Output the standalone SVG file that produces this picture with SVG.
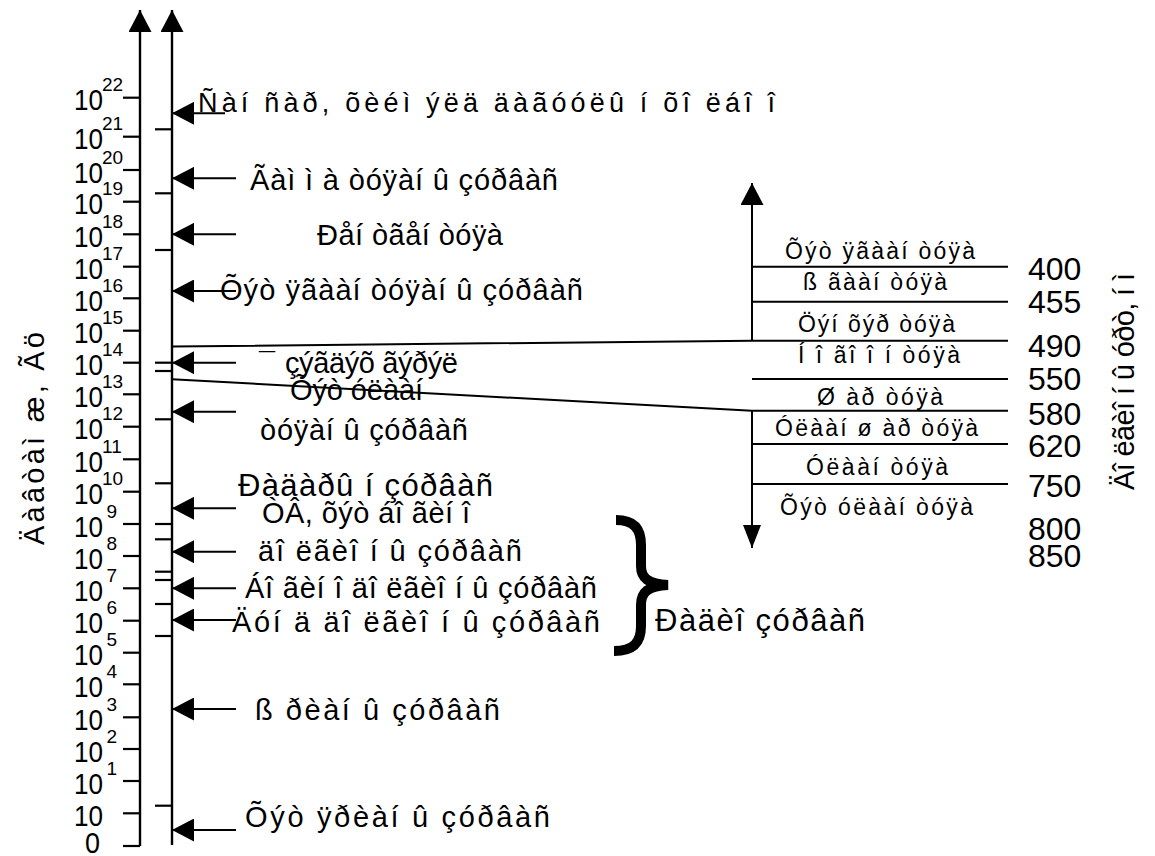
<svg xmlns="http://www.w3.org/2000/svg" width="1155" height="856" viewBox="0 0 1155 856" xml:space="preserve">
<style>
text { font-family: "Liberation Sans", Arial, sans-serif; fill: #000; }
.lbl { font-size: 29px; }
.big { font-size: 31px; }
.band { font-size: 23px; }
.num { font-size: 32px; }
.base { font-size: 30px; }
.sup { font-size: 19px; }
.ax { font-size: 29px; }
.ln { stroke: #000; stroke-width: 2; fill: none; }
.axis { stroke: #000; stroke-width: 2.4; fill: none; }
.tick { stroke: #000; stroke-width: 2.2; }
</style>
<defs>
<marker id="ah" markerUnits="userSpaceOnUse" markerWidth="22" markerHeight="23" viewBox="0 0 22 23" refX="22" refY="11.5" orient="auto"><path d="M0,0 L22,11.5 L0,23 Z" fill="#000"/></marker>
<marker id="ahN" markerUnits="userSpaceOnUse" markerWidth="23" markerHeight="18" viewBox="0 0 23 18" refX="23" refY="9" orient="auto"><path d="M0,0 L23,9 L0,18 Z" fill="#000"/></marker>
</defs>

<!-- frequency scale: two axes, ticks and powers of ten -->
<g id="freq-axis">
<line class="axis" x1="140" y1="846" x2="140" y2="10" marker-end="url(#ah)"/>
<line class="axis" x1="172" y1="845" x2="172" y2="10" marker-end="url(#ah)"/>
<g class="tick">
<line x1="123" y1="97.7" x2="140" y2="97.7"/>
<line x1="123" y1="136.7" x2="140" y2="136.7"/>
<line x1="123" y1="170" x2="140" y2="170"/>
<line x1="123" y1="201.7" x2="140" y2="201.7"/>
<line x1="123" y1="234.3" x2="140" y2="234.3"/>
<line x1="123" y1="266.7" x2="140" y2="266.7"/>
<line x1="123" y1="298.3" x2="140" y2="298.3"/>
<line x1="123" y1="330.7" x2="140" y2="330.7"/>
<line x1="123" y1="362.7" x2="140" y2="362.7"/>
<line x1="123" y1="394.3" x2="140" y2="394.3"/>
<line x1="123" y1="426.7" x2="140" y2="426.7"/>
<line x1="123" y1="459.3" x2="140" y2="459.3"/>
<line x1="123" y1="491.7" x2="140" y2="491.7"/>
<line x1="123" y1="524" x2="140" y2="524"/>
<line x1="123" y1="556" x2="140" y2="556"/>
<line x1="123" y1="588.3" x2="140" y2="588.3"/>
<line x1="123" y1="620.7" x2="140" y2="620.7"/>
<line x1="123" y1="652.7" x2="140" y2="652.7"/>
<line x1="123" y1="684.3" x2="140" y2="684.3"/>
<line x1="123" y1="717.3" x2="140" y2="717.3"/>
<line x1="123" y1="749" x2="140" y2="749"/>
<line x1="123" y1="781" x2="140" y2="781"/>
<line x1="123" y1="813.3" x2="140" y2="813.3"/>
<line x1="123" y1="846" x2="140" y2="846"/>
<line x1="155" y1="129.3" x2="172" y2="129.3"/>
<line x1="155" y1="193.3" x2="172" y2="193.3"/>
<line x1="155" y1="250" x2="172" y2="250"/>
<line x1="155" y1="362.7" x2="172" y2="362.7"/>
<line x1="155" y1="371" x2="172" y2="371"/>
<line x1="155" y1="419.3" x2="172" y2="419.3"/>
<line x1="155" y1="483.3" x2="172" y2="483.3"/>
<line x1="155" y1="524" x2="172" y2="524"/>
<line x1="155" y1="539.3" x2="172" y2="539.3"/>
<line x1="155" y1="571.7" x2="172" y2="571.7"/>
<line x1="155" y1="580" x2="172" y2="580"/>
<line x1="155" y1="604" x2="172" y2="604"/>
<line x1="155" y1="636" x2="172" y2="636"/>
<line x1="155" y1="805.7" x2="172" y2="805.7"/>
</g>
<g>
<text class="base" x="74" y="110.4" textLength="29" lengthAdjust="spacingAndGlyphs">10</text><text class="sup" x="102" y="91.2">22</text>
<text class="base" x="74" y="149.4" textLength="29" lengthAdjust="spacingAndGlyphs">10</text><text class="sup" x="102" y="130.2">21</text>
<text class="base" x="74" y="182.7" textLength="29" lengthAdjust="spacingAndGlyphs">10</text><text class="sup" x="102" y="163.5">20</text>
<text class="base" x="74" y="214.4" textLength="29" lengthAdjust="spacingAndGlyphs">10</text><text class="sup" x="102" y="195.2">19</text>
<text class="base" x="74" y="247" textLength="29" lengthAdjust="spacingAndGlyphs">10</text><text class="sup" x="102" y="227.8">18</text>
<text class="base" x="74" y="279.4" textLength="29" lengthAdjust="spacingAndGlyphs">10</text><text class="sup" x="102" y="260.2">17</text>
<text class="base" x="74" y="311" textLength="29" lengthAdjust="spacingAndGlyphs">10</text><text class="sup" x="102" y="291.8">16</text>
<text class="base" x="74" y="343.4" textLength="29" lengthAdjust="spacingAndGlyphs">10</text><text class="sup" x="102" y="324.2">15</text>
<text class="base" x="74" y="375.4" textLength="29" lengthAdjust="spacingAndGlyphs">10</text><text class="sup" x="102" y="356.2">14</text>
<text class="base" x="74" y="407" textLength="29" lengthAdjust="spacingAndGlyphs">10</text><text class="sup" x="102" y="387.8">13</text>
<text class="base" x="74" y="439.4" textLength="29" lengthAdjust="spacingAndGlyphs">10</text><text class="sup" x="102" y="420.2">12</text>
<text class="base" x="74" y="472" textLength="29" lengthAdjust="spacingAndGlyphs">10</text><text class="sup" x="102" y="452.8">11</text>
<text class="base" x="74" y="504.4" textLength="29" lengthAdjust="spacingAndGlyphs">10</text><text class="sup" x="102" y="485.2">10</text>
<text class="base" x="74" y="536.7" textLength="29" lengthAdjust="spacingAndGlyphs">10</text><text class="sup" x="106.5" y="517.5">9</text>
<text class="base" x="74" y="568.7" textLength="29" lengthAdjust="spacingAndGlyphs">10</text><text class="sup" x="106.5" y="549.5">8</text>
<text class="base" x="74" y="601" textLength="29" lengthAdjust="spacingAndGlyphs">10</text><text class="sup" x="106.5" y="581.8">7</text>
<text class="base" x="74" y="633.4" textLength="29" lengthAdjust="spacingAndGlyphs">10</text><text class="sup" x="106.5" y="614.2">6</text>
<text class="base" x="74" y="665.4" textLength="29" lengthAdjust="spacingAndGlyphs">10</text><text class="sup" x="106.5" y="646.2">5</text>
<text class="base" x="74" y="697" textLength="29" lengthAdjust="spacingAndGlyphs">10</text><text class="sup" x="106.5" y="677.8">4</text>
<text class="base" x="74" y="730" textLength="29" lengthAdjust="spacingAndGlyphs">10</text><text class="sup" x="106.5" y="710.8">3</text>
<text class="base" x="74" y="761.7" textLength="29" lengthAdjust="spacingAndGlyphs">10</text><text class="sup" x="106.5" y="742.5">2</text>
<text class="base" x="74" y="793.7" textLength="29" lengthAdjust="spacingAndGlyphs">10</text><text class="sup" x="106.5" y="774.5">1</text>
<text class="base" x="74" y="826" textLength="29" lengthAdjust="spacingAndGlyphs">10</text>
<text class="base" x="85" y="853" textLength="15" lengthAdjust="spacingAndGlyphs">0</text>
</g>
<text class="ax" transform="translate(44,438.5) rotate(-90)" text-anchor="middle" textLength="213" lengthAdjust="spacing">Äàâòàì  æ, Ãö</text>
</g>

<!-- pointers from each band name to the scale -->
<g id="connectors">
<line class="ln" x1="225" y1="113.3" x2="172" y2="113.3" marker-end="url(#ah)"/>
<line class="ln" x1="236" y1="178.3" x2="172" y2="178.3" marker-end="url(#ah)"/>
<line class="ln" x1="236" y1="234.3" x2="172" y2="234.3" marker-end="url(#ah)"/>
<line class="ln" x1="236" y1="291" x2="172" y2="291" marker-end="url(#ah)"/>
<line class="ln" x1="236" y1="362.7" x2="172" y2="362.7" marker-end="url(#ah)"/>
<line class="ln" x1="236" y1="411.7" x2="172" y2="411.7" marker-end="url(#ah)"/>
<line class="ln" x1="236" y1="508.3" x2="172" y2="508.3" marker-end="url(#ah)"/>
<line class="ln" x1="236" y1="551.7" x2="172" y2="551.7" marker-end="url(#ah)"/>
<line class="ln" x1="236" y1="588.3" x2="172" y2="588.3" marker-end="url(#ah)"/>
<line class="ln" x1="236" y1="620" x2="172" y2="620" marker-end="url(#ah)"/>
<line class="ln" x1="236" y1="709" x2="172" y2="709" marker-end="url(#ah)"/>
<line class="ln" x1="236" y1="830" x2="172" y2="830" marker-end="url(#ah)"/>
<!-- visible light range fanned out to the wavelength scale -->
<polyline class="ln" points="172,346.5 752,340.7 1008,340.7"/>
<polyline class="ln" points="172,379.3 752,410.8 1008,410.8"/>
</g>

<!-- wavelength scale for the visible band -->
<g id="wave-scale">
<line class="ln" x1="752" y1="340.7" x2="752" y2="183" marker-end="url(#ah)"/>
<line class="ln" x1="752" y1="410.8" x2="752" y2="548" marker-end="url(#ahN)"/>
<line class="ln" x1="752" y1="266.7" x2="1008" y2="266.7"/>
<line class="ln" x1="752" y1="301.7" x2="1008" y2="301.7"/>
<line class="ln" x1="752" y1="379" x2="1008" y2="379"/>
<line class="ln" x1="752" y1="444" x2="1008" y2="444"/>
<line class="ln" x1="752" y1="484" x2="1008" y2="484"/>
<g class="num">
<text x="1028" y="280">400</text>
<text x="1028" y="313">455</text>
<text x="1028" y="356.7">490</text>
<text x="1028" y="390">550</text>
<text x="1028" y="425">580</text>
<text x="1028" y="456.7">620</text>
<text x="1028" y="496.7">750</text>
<text x="1028" y="540">800</text>
<text x="1028" y="567">850</text>
</g>
<text class="ax" transform="translate(1134,381.5) rotate(-90)" text-anchor="middle" textLength="217" lengthAdjust="spacing">Äî ëãèî í û óðò, í ì</text>
</g>

<g id="band-uv-wl"><text class="band" x="785" y="259" textLength="190" lengthAdjust="spacing">Õýò ÿãààí  òóÿà</text></g>
<g id="band-violet"><text class="band" x="803" y="290" textLength="144" lengthAdjust="spacing">ß ãààí  òóÿà</text></g>
<g id="band-blue"><text class="band" x="798" y="331.7" textLength="157" lengthAdjust="spacing">Öýí õýð òóÿà</text></g>
<g id="band-green"><text class="band" x="798" y="363" textLength="162" lengthAdjust="spacing">Í î ãî î í  òóÿà</text></g>
<g id="band-yellow"><text class="band" x="817" y="405" textLength="126" lengthAdjust="spacing">Ø àð òóÿà</text></g>
<g id="band-orange"><text class="band" x="775" y="436" textLength="203" lengthAdjust="spacing">Óëààí  ø àð òóÿà</text></g>
<g id="band-red"><text class="band" x="806" y="475" textLength="142" lengthAdjust="spacing">Óëààí  òóÿà</text></g>
<g id="band-ir-wl"><text class="band" x="780" y="515" textLength="193" lengthAdjust="spacing">Õýò óëààí  òóÿà</text></g>

<g id="space-comm"><text class="lbl" x="198" y="112" textLength="577" lengthAdjust="spacing" style="font-size:27px">Ñàí ñàð, õèéì  ýëä äàãóóëû í  õî ëáî î</text></g>
<g id="gamma"><text class="lbl" x="250" y="190" textLength="308" lengthAdjust="spacing">Ãàì ì à òóÿàí û  çóðâàñ</text></g>
<g id="xray"><text class="lbl" x="317" y="245" textLength="186" lengthAdjust="spacing">Ðåí òãåí  òóÿà</text></g>
<g id="uv"><text class="lbl" x="220" y="300" textLength="363" lengthAdjust="spacing">Õýò ÿãààí  òóÿàí û  çóðâàñ</text></g>
<g id="visible"><text class="lbl" x="259" y="373">¯</text><text class="lbl" x="285" y="373" textLength="173" lengthAdjust="spacing">çýãäýõ ãýðýë</text></g>
<g id="infrared"><text class="lbl" x="290" y="400" textLength="133" lengthAdjust="spacing">Õýò óëààí</text><text class="lbl" x="260" y="440" textLength="208" lengthAdjust="spacing">òóÿàí û  çóðâàñ</text></g>
<g id="radar"><text class="big" x="238" y="496" textLength="255" lengthAdjust="spacing">Ðàäàðû í  çóðâàñ</text></g>
<g id="tv-vhf"><text class="lbl" x="262" y="523" textLength="208" lengthAdjust="spacing">ÒÂ, õýò áî ãèí î</text></g>
<g id="long-wave-1"><text class="lbl" x="258" y="561" textLength="264" lengthAdjust="spacing">äî ëãèî í û  çóðâàñ</text></g>
<g id="short-wave"><text class="lbl" x="245" y="598" textLength="352" lengthAdjust="spacing">Áî ãèí î äî ëãèî í û  çóðâàñ</text></g>
<g id="medium-wave"><text class="lbl" x="232" y="632" textLength="368" lengthAdjust="spacing">Äóí ä äî ëãèî í û  çóðâàñ</text></g>
<g id="speech"><text class="lbl" x="255" y="720" textLength="245" lengthAdjust="spacing">ß ðèàí û  çóðâàñ</text></g>
<g id="infra-sound"><text class="lbl" x="245" y="827" textLength="305" lengthAdjust="spacing">Õýò ÿðèàí û  çóðâàñ</text></g>

<!-- brace grouping the radio bands -->
<g id="radio">
<path d="M616,520 C634,520 641,529 641,545 L641,566 C641,578 648,584 668,585 C648,586 641,592 641,605 L641,626 C641,642 634,651 614,651" fill="none" stroke="#000" stroke-width="10"/>
<text class="big" x="655" y="631" textLength="210" lengthAdjust="spacing">Ðàäèî çóðâàñ</text>
</g>
</svg>
